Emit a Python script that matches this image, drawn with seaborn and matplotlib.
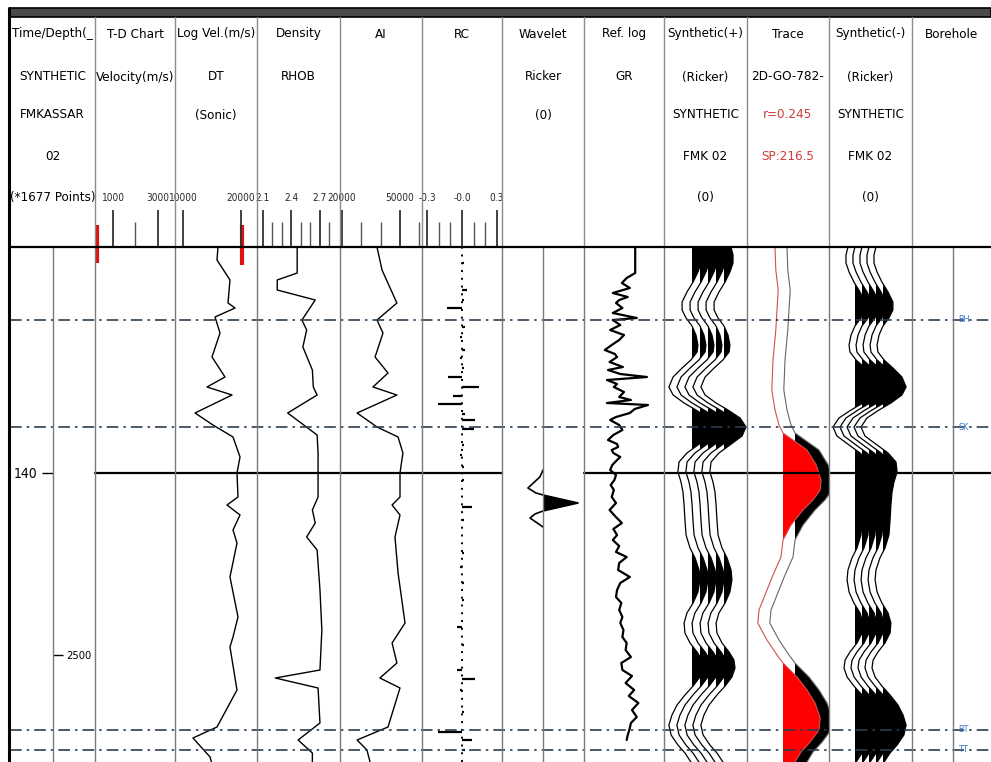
import matplotlib
matplotlib.use("Agg")
import numpy as np
import pandas as pd
import matplotlib.pyplot as plt
from matplotlib import font_manager
from matplotlib.font_manager import FontProperties
from matplotlib.patches import Rectangle
import seaborn as sns

# ---------------- data ----------------
# time axis (ms) of the display window
T_TOP, T_BOT = 117.4, 168.9
time_ticks = [140]
time_tick_labels = ["140"]
depth_tick_times = [158.2]
depth_tick_labels = ["2500"]
current_time = 140.0

marker_names = ["BH", "SK", "BT", "TT"]
marker_times = [124.7, 135.4, 165.7, 167.7]

# header scales
td_major = [1000, 3000]; td_minor = [2000]; td_labels = ["1000", "3000"]
dt_major = [10000, 20000]; dt_minor = []; dt_labels = ["10000", "20000"]
rho_major = [2.1, 2.4, 2.7]; rho_minor = [2.2, 2.3, 2.5, 2.6, 2.8]; rho_labels = ["2.1", "2.4", "2.7"]
ai_major = [20000, 50000]; ai_minor = [30000, 40000, 60000]; ai_labels = ["20000", "50000"]
rc_major = [-0.3, 0.0, 0.3]; rc_minor = [-0.2, -0.1, 0.1, 0.2]; rc_labels = ["-0.3", "-0.0", "0.3"]
td_marker = [290]
dt_marker = [20200]

# DT (Log velocity)
dt_time = [117.4, 118.7, 120.7, 123.0, 123.5, 124.4, 126.0, 128.4, 130.4, 131.4, 132.2, 134.0,
           135.2, 136.4, 138.4, 140.0, 142.4, 143.2, 144.2, 145.7, 147.0, 150.4, 154.4, 156.4,
           157.4, 161.7, 165.4, 166.5, 168.4, 168.9]
dt_vals = [16030, 15860, 18100, 17760, 18970, 15520, 16380, 15000, 17240, 14140, 18450, 12070,
           15170, 18620, 19830, 19310, 19480, 17590, 19830, 18620, 19310, 18100, 19480, 18620,
           18100, 19310, 15860, 11720, 14660, 14900]

# Density RHOB
rho_time = [117.4, 120.0, 120.7, 121.7, 122.7, 124.7, 125.7, 127.4, 129.7, 131.4, 132.2, 134.0,
            136.2, 138.0, 142.4, 143.7, 145.0, 146.4, 147.7, 151.7, 155.7, 159.7, 160.5, 161.5,
            165.0, 166.7, 168.0, 168.9]
rho_vals = [2.46, 2.46, 2.25, 2.25, 2.65, 2.51, 2.56, 2.52, 2.62, 2.63, 2.67, 2.36,
            2.67, 2.68, 2.68, 2.62, 2.65, 2.56, 2.67, 2.70, 2.72, 2.70, 2.23, 2.68,
            2.70, 2.47, 2.62, 2.62]

# Acoustic impedance
ai_time = [117.4, 119.7, 123.0, 124.7, 126.0, 128.4, 130.0, 131.4, 132.2, 134.0, 135.4, 136.4,
           138.0, 140.0, 142.4, 143.2, 144.2, 146.4, 150.0, 155.0, 157.0, 159.0, 160.5, 161.5,
           165.4, 166.7, 167.7, 168.9]
ai_vals = [38100, 40700, 48400, 38100, 41200, 37100, 43800, 36000, 48400, 27800, 38100, 49000,
           51500, 50000, 50000, 45900, 50000, 47400, 49000, 52600, 45900, 48400, 39600, 50000,
           43800, 27800, 32900, 34500]

# Reflection coefficients
rc_time = [119.0, 121.7, 122.7, 123.5, 125.4, 126.4, 127.7, 128.5, 129.5, 130.4, 131.4, 132.3,
           133.1, 134.1, 134.7, 135.6, 137.2, 138.2, 139.4, 140.7, 143.4, 144.7, 148.0, 149.4,
           151.0, 152.7, 155.4, 157.2, 159.7, 160.6, 161.7, 163.9, 165.9, 166.7, 167.7]
rc_vals = [0.02, 0.04, 0.02, -0.13, 0.03, -0.02, 0.03, -0.02, 0.02, -0.12, 0.15, -0.08,
           -0.21, 0.03, 0.11, 0.10, 0.02, -0.02, 0.02, 0.02, 0.09, 0.02, 0.02, -0.02,
           0.02, 0.02, -0.04, 0.02, -0.04, 0.11, -0.02, 0.02, -0.21, 0.09, 0.03]

# Ricker wavelet
wav_time = [139.7, 140.4, 141.5, 142.0, 142.2, 143.0, 143.8, 144.1, 144.5, 145.4]
wav_amp = [0.0, -0.09, -0.43, -0.20, 0.0, 1.0, 0.0, -0.23, -0.37, 0.0]

# Reference log GR
gr_time = [117.4, 120.0, 120.5, 121.0, 121.5, 122.0, 122.4, 122.7, 123.0, 123.5, 124.0, 124.5,
           124.7, 125.2, 125.7, 126.2, 126.7, 127.2, 127.7, 128.1, 128.4, 128.9, 129.4, 129.7,
           130.1, 130.4, 130.7, 131.1, 131.4, 131.9, 132.4, 132.7, 133.0, 133.2, 133.6, 134.0,
           134.4, 134.7, 135.2, 135.7, 136.2, 136.7, 137.1, 137.4, 137.7, 138.0, 138.4, 138.7,
           139.2, 139.7, 140.2, 140.7, 141.2, 141.7, 142.4, 143.0, 143.7, 144.3, 145.0, 145.6,
           146.2, 146.7, 147.3, 147.9, 148.4, 149.0, 149.7, 150.4, 151.0, 151.7, 152.4, 153.0,
           153.7, 154.4, 155.0, 155.7, 156.4, 157.0, 157.7, 158.4, 159.0, 159.7, 160.3, 161.0,
           161.7, 162.3, 163.0, 163.7, 164.4, 165.0, 165.7, 166.2, 166.7]
gr_vals = [96, 96, 80, 71, 86, 54, 82, 66, 60, 72, 54, 99,
           54, 68, 49, 75, 66, 52, 39, 58, 62, 48, 73, 45,
           68, 118, 43, 62, 56, 75, 66, 88, 43, 120, 95, 86,
           60, 49, 66, 72, 55, 45, 62, 64, 52, 55, 68, 62,
           53, 49, 60, 57, 50, 56, 52, 60, 48, 58, 71, 55,
           62, 54, 66, 60, 80, 66, 64, 86, 68, 62, 60, 70,
           66, 72, 68, 74, 72, 80, 78, 88, 70, 72, 90, 78,
           94, 84, 102, 90, 99, 88, 85, 82, 80]

# Synthetic seismogram (normalised amplitude)
syn_time = [117.4, 118.2, 119.0, 119.9, 120.9, 121.9, 122.9, 123.7, 124.5, 125.3, 126.2, 127.2,
            127.9, 128.7, 129.5, 130.4, 131.4, 132.2, 133.0, 133.7, 134.5, 135.4, 136.3, 137.2,
            138.0, 138.9, 139.9, 140.9, 141.9, 143.2, 144.7, 146.2, 147.5, 148.5, 149.7, 150.7,
            151.9, 153.0, 154.0, 155.0, 156.0, 157.0, 157.9, 158.7, 159.5, 160.4, 161.3, 162.2,
            163.2, 164.2, 165.2, 166.2, 167.2, 168.0, 168.9]
syn_amp = [0.32, 0.41, 0.41, 0.27, 0.05, -0.23, -0.45, -0.45, -0.27, 0.0, 0.18, 0.27,
           0.23, -0.05, -0.45, -0.86, -1.05, -0.86, -0.36, 0.18, 0.73, 1.0, 0.82, 0.27,
           -0.23, -0.59, -0.64, -0.50, -0.41, -0.36, -0.32, -0.27, -0.09, 0.14, 0.32, 0.36,
           0.27, 0.05, -0.23, -0.36, -0.32, -0.09, 0.23, 0.45, 0.50, 0.36, 0.05, -0.32,
           -0.68, -0.91, -1.05, -0.95, -0.64, -0.32, -0.05]

# Seismic trace 2D-GO-782 (normalised amplitude)
trc_time = [117.4, 119.7, 121.7, 123.7, 125.7, 128.7, 131.7, 133.7, 135.2, 136.0, 137.7, 139.2,
            140.7, 141.7, 142.7, 143.7, 145.2, 146.7, 148.4, 150.2, 151.7, 153.7, 155.0, 156.7,
            158.2, 159.0, 160.4, 161.7, 163.0, 164.5, 165.7, 166.9, 167.9, 168.9]
trc_amp = [-0.20, -0.18, -0.12, -0.15, -0.18, -0.25, -0.28, -0.20, -0.10, 0.0, 0.60, 0.83,
           0.95, 0.93, 0.75, 0.50, 0.20, 0.0, -0.05, -0.25, -0.40, -0.60, -0.63, -0.40,
           -0.15, 0.0, 0.35, 0.60, 0.80, 0.93, 0.90, 0.68, 0.45, 0.30]

header_texts = {
    "time": ["Time/Depth(_", "SYNTHETIC", "FMKASSAR", "02", "(*1677 Points)"],
    "td": ["T-D Chart", "Velocity(m/s)"],
    "dt": ["Log Vel.(m/s)", "DT", "(Sonic)"],
    "rho": ["Density", "RHOB"],
    "ai": ["AI"],
    "rc": ["RC"],
    "wav": ["Wavelet", "Ricker", "(0)"],
    "gr": ["Ref. log", "GR"],
    "synp": ["Synthetic(+)", "(Ricker)", "SYNTHETIC", "FMK 02", "(0)"],
    "trc": ["Trace", "2D-GO-782-", "r=0.245", "SP:216.5"],
    "synm": ["Synthetic(-)", "(Ricker)", "SYNTHETIC", "FMK 02", "(0)"],
    "bh": ["Borehole"],
}

# ---------------- style ----------------
sns.set_theme(style="white")
plt.rcParams["font.family"] = ["DejaVu Sans"]


def pick_narrow():
    fl = font_manager.fontManager.ttflist
    def ok(f):
        return f.style == "normal" and f.weight in (400, "normal", "regular", "book")
    for f in fl:
        if ok(f) and f.name == "Liberation Sans Narrow":
            return f.fname, "lib"
    for f in fl:
        if ok(f) and f.name == "DejaVu Sans" and f.stretch == "condensed":
            return f.fname, "cond"
    for f in fl:
        if ok(f) and ("Condensed" in f.name or f.stretch == "condensed") \
                and "Extra" not in f.name and "Ultra" not in f.name and "Semi" not in f.name:
            return f.fname, "cond"
    return None, None


fpath, kind = pick_narrow()
if kind == "lib":
    HS, SS, TS = 11.5, 8.6, 11
elif kind == "cond":
    HS, SS, TS = 9.6, 7.2, 10
else:
    HS, SS, TS = 8.3, 6.3, 9


def FP(size):
    if fpath:
        return FontProperties(fname=fpath, size=size)
    return FontProperties(family="DejaVu Sans", size=size)


W, H = 991, 762
fig = plt.figure(figsize=(W / 100, H / 100), dpi=100)
fig.patch.set_facecolor("white")
HY0, HY1, BY0, BY1 = 18, 247, 247, 762
ROWS = [34, 77, 115, 157, 198]
RED = "#e01010"


def add_ax(x0, x1, y0, y1, z=1):
    ax = fig.add_axes([x0 / W, 1 - y1 / H, (x1 - x0) / W, (y1 - y0) / H], zorder=z)
    ax.set_facecolor("none")
    for s in ax.spines.values():
        s.set_visible(False)
    return ax


def body(x0, x1):
    return add_ax(x0, x1, BY0, BY1, z=2)


def finish(ax, xlim, ylim):
    ax.set_xlim(xlim); ax.set_ylim(ylim)
    ax.set_xticks([]); ax.set_yticks([])
    ax.set_xlabel(""); ax.set_ylabel("")
    leg = ax.get_legend()
    if leg:
        leg.remove()


def header(x0, x1, key, colors=None):
    ax = add_ax(x0, x1, HY0, HY1, z=2)
    for i, s in enumerate(header_texts[key]):
        c = colors[i] if colors else "black"
        ax.text(0.5, ROWS[i], s, transform=ax.get_yaxis_transform(), ha="center",
                va="center", fontproperties=FP(HS), color=c)
    return ax


def scale(ax, major, minor, labels, xlim):
    ax.vlines(major, 210, 247, color="#333333", lw=1.3)
    if minor:
        ax.vlines(minor, 222, 247, color="#555555", lw=1.0)
    for v, l in zip(major, labels):
        ax.text(v, ROWS[4], l, ha="center", va="center", fontproperties=FP(SS))
    finish(ax, xlim, (247, 18))


def vline_log(ax, vals, times, **kw):
    df = pd.DataFrame({"v": vals, "t": times})
    sns.lineplot(data=df, x="v", y="t", sort=False, estimator=None, orient="y",
                 ax=ax, **kw)


YL = (T_BOT, T_TOP)
HYL = (247, 18)

# --- column limits (data units mapped to pixel columns) ---
TD_XL = (200, 3756)
DT_XL = (8621, 22759)
RHO_XL = (2.037, 2.911)
AI_XL = (18966, 61379)
RC_XL = (-0.343, 0.343)
WAV_XL = (-1.17, 1.17)
GR_XL = (0, 150)
SYN_XL = (0, 83)
TRC_XL = (-0.9, 1.15)

# Time / depth column
tc = add_ax(42, 53, BY0, BY1, z=3)
tc.set_ylim(YL); tc.set_xticks([])
tc.set_yticks(time_ticks); tc.set_yticklabels(time_tick_labels)
tc.yaxis.set_ticks_position("right")
tc.tick_params(axis="y", direction="in", length=8, width=1, right=True, left=False,
               labelleft=True, labelright=False, pad=3, colors="black")
for lab in tc.get_yticklabels():
    lab.set_fontproperties(FP(TS))
dc = add_ax(53, 95, BY0, BY1, z=3)
dc.set_ylim(YL); dc.set_xticks([])
dc.set_yticks(depth_tick_times); dc.set_yticklabels(depth_tick_labels)
dc.tick_params(axis="y", direction="in", length=7, width=1, left=True, labelleft=True,
               pad=-28, colors="black")
for lab in dc.get_yticklabels():
    lab.set_fontproperties(FP(SS + 0.8))
h = header(10, 95, "time")
finish(h, (0, 1), HYL)

# T-D chart
ax = body(95, 175)
ax.vlines(td_marker, T_TOP, T_TOP + 1.6, color=RED, lw=3)
finish(ax, TD_XL, YL)
h = header(95, 175, "td")
h.vlines(td_marker, 225, 247, color=RED, lw=3)
scale(h, td_major, td_minor, td_labels, TD_XL)

# DT
ax = body(175, 257)
vline_log(ax, dt_vals, dt_time, color="black", lw=1.0)
ax.vlines(dt_marker, T_TOP, T_TOP + 1.8, color=RED, lw=3)
finish(ax, DT_XL, YL)
h = header(175, 257, "dt")
h.vlines(dt_marker, 225, 247, color=RED, lw=3)
scale(h, dt_major, dt_minor, dt_labels, DT_XL)

# Density
ax = body(257, 340)
vline_log(ax, rho_vals, rho_time, color="black", lw=1.0)
finish(ax, RHO_XL, YL)
h = header(257, 340, "rho")
scale(h, rho_major, rho_minor, rho_labels, RHO_XL)

# AI
ax = body(340, 422)
vline_log(ax, ai_vals, ai_time, color="black", lw=1.0)
finish(ax, AI_XL, YL)
h = header(340, 422, "ai")
scale(h, ai_major, ai_minor, ai_labels, AI_XL)

# RC
ax = body(422, 502)
ax.axvline(0, color="black", lw=1.4, ls=(0, (1, 3)))
ax.hlines(rc_time, 0, rc_vals, color="black", lw=1.6)
finish(ax, RC_XL, YL)
h = header(422, 502, "rc")
scale(h, rc_major, rc_minor, rc_labels, RC_XL)

# Wavelet
ax = body(502, 584)
wt = np.array(wav_time); wa = np.array(wav_amp)
ax.fill_betweenx(wt, 0, wa, where=wa >= 0, interpolate=True, color="black", lw=0)
vline_log(ax, wav_amp, wav_time, color="black", lw=1.2)
finish(ax, WAV_XL, YL)
h = header(502, 584, "wav")
finish(h, (0, 1), HYL)

# GR
ax = body(584, 664)
vline_log(ax, gr_vals, gr_time, color="black", lw=1.6)
finish(ax, GR_XL, YL)
h = header(584, 664, "gr")
finish(h, (0, 1), HYL)

# Synthetic(+) and (-)
st = np.array(syn_time); sa = np.array(syn_amp)
GAIN = 22
for (x0, x1, bases, sign, key) in [(664, 747, [28, 36, 44, 52, 60], 1, "synp"),
                                   (829, 912, [26, 33, 40, 47, 54], -1, "synm")]:
    ax = body(x0, x1)
    for b in bases:
        xv = b + sign * GAIN * sa
        ax.fill_betweenx(st, b, xv, where=(sign * sa) >= 0, interpolate=True,
                         color="black", lw=0)
        vline_log(ax, xv, st, color="black", lw=0.9)
    finish(ax, SYN_XL, YL)
    h = header(x0, x1, key)
    finish(h, (0, 1), HYL)

# Trace
ax = body(747, 829)
tt = np.array(trc_time); ta = np.array(trc_amp)
SHIFT = 0.3
ax.fill_betweenx(tt, SHIFT, SHIFT + ta, where=ta >= 0, interpolate=True, color="black", lw=0)
vline_log(ax, SHIFT + ta, tt, color="#666666", lw=0.8)
ax.fill_betweenx(tt, 0, ta, where=ta >= 0, interpolate=True, color="#ff0000", lw=0)
vline_log(ax, ta, tt, color="#d05050", lw=0.8)
finish(ax, TRC_XL, YL)
h = header(747, 829, "trc", colors=["black", "black", "#d23c3c", "#d23c3c"])
finish(h, (0, 1), HYL)

# Borehole
h = header(912, 991, "bh")
finish(h, (0, 1), HYL)

# markers / current time line overlay
mk = add_ax(10, 991, BY0, BY1, z=5)
for t in marker_times:
    mk.axhline(t, color="#2c3e50", lw=1.2, ls=(0, (7, 3, 1.5, 3)))
for n, t in zip(marker_names, marker_times):
    mk.text(0.972, t, n, transform=mk.get_yaxis_transform(), ha="center", va="center",
            fontproperties=FP(6.5), color="#3a78c8")
mk.axhline(current_time, xmin=(95 - 10) / 981, xmax=(502 - 10) / 981, color="black", lw=1.6)
mk.axhline(current_time, xmin=(584 - 10) / 981, xmax=1.0, color="black", lw=1.6)
finish(mk, (0, 1), YL)

# frame overlay
fr = fig.add_axes([0, 0, 1, 1], zorder=10)
fr.set_xlim(0, W); fr.set_ylim(H, 0); fr.axis("off"); fr.patch.set_alpha(0)
for x in [95, 175, 257, 340, 422, 502, 584, 664, 747, 829, 912]:
    fr.plot([x, x], [17, 247], color="#8c8c8c", lw=1.0)
for x in [53, 95, 175, 257, 340, 422, 502, 543, 584, 664, 747, 829, 912, 953]:
    fr.plot([x, x], [247, 762], color="#7a7a7a", lw=1.0)
fr.add_patch(Rectangle((10, 8), 981, 9, facecolor="#4a4a4a", edgecolor="black", lw=1.2))
fr.plot([9, 9], [8, 762], color="black", lw=2.2)
fr.plot([10, 991], [247, 247], color="black", lw=1.6)

fig.savefig("out.png", dpi=100)
